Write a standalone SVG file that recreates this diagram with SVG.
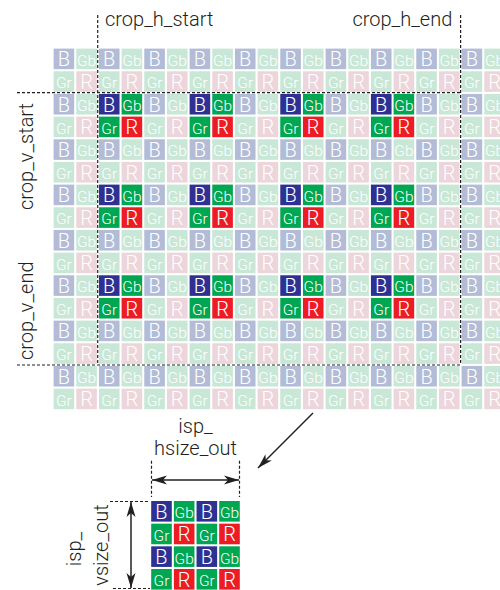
<svg xmlns="http://www.w3.org/2000/svg" xmlns:xlink="http://www.w3.org/1999/xlink" width="500" height="590" viewBox="0 0 500 590">
<style>
.lb{fill:#b3bcd6}.lg{fill:#c8e7d6}.lr{fill:#ecd5db}
.db{fill:#2e3192}.dg{fill:#00a651}.dr{fill:#ed1c24}
.big{font-family:Roboto,"Liberation Sans",sans-serif;font-weight:300;font-size:20px;fill:#fff;text-anchor:middle}
.sm{font-family:Roboto,"Liberation Sans",sans-serif;font-weight:300;font-size:15.5px;fill:#fff;text-anchor:middle}
.lbl{font-family:Roboto,"Liberation Sans",sans-serif;font-weight:300;font-size:20px;fill:#231f20}
.dash{stroke:#231f20;stroke-width:1.2;stroke-dasharray:3 2;fill:none}
.arr{stroke:#231f20;stroke-width:1.5;fill:none}
</style>
<defs>
<marker id="ah" markerUnits="userSpaceOnUse" markerWidth="18" markerHeight="12" viewBox="-17 -6 18 12" refX="0" refY="0" orient="auto-start-reverse"><path d="M0,0 L-15,-4.5 L-11,0 L-15,4.5 Z" fill="#231f20"/></marker>
<g id="lB"><rect class="lb" width="20.6" height="20.6"/><text class="big" x="10.3" y="17.8">B</text></g>
<g id="lGb"><rect class="lg" width="20.6" height="20.6"/><text class="sm" x="10.3" y="17.2">Gb</text></g>
<g id="lGr"><rect class="lg" width="20.6" height="20.6"/><text class="sm" x="10.3" y="17.2">Gr</text></g>
<g id="lR"><rect class="lr" width="20.6" height="20.6"/><text class="big" x="10.3" y="17.8">R</text></g>
<g id="dB"><rect class="db" width="20.6" height="20.6"/><text class="big" x="10.3" y="17.8">B</text></g>
<g id="dGb"><rect class="dg" width="20.6" height="20.6"/><text class="sm" x="10.3" y="17.2">Gb</text></g>
<g id="dGr"><rect class="dg" width="20.6" height="20.6"/><text class="sm" x="10.3" y="17.2">Gr</text></g>
<g id="dR"><rect class="dr" width="20.6" height="20.6"/><text class="big" x="10.3" y="17.8">R</text></g>
<g id="rowLE">
<use href="#lB" x="53.6"/><use href="#lGb" x="76.27"/><use href="#lB" x="98.93"/><use href="#lGb" x="121.6"/><use href="#lB" x="144.27"/><use href="#lGb" x="166.93"/><use href="#lB" x="189.6"/><use href="#lGb" x="212.27"/><use href="#lB" x="234.93"/><use href="#lGb" x="257.6"/><use href="#lB" x="280.27"/><use href="#lGb" x="302.93"/><use href="#lB" x="325.6"/><use href="#lGb" x="348.27"/><use href="#lB" x="370.93"/><use href="#lGb" x="393.6"/><use href="#lB" x="416.27"/><use href="#lGb" x="438.93"/><use href="#lB" x="461.6"/><use href="#lGb" x="484.27"/>
</g>
<g id="rowLO">
<use href="#lGr" x="53.6"/><use href="#lR" x="76.27"/><use href="#lGr" x="98.93"/><use href="#lR" x="121.6"/><use href="#lGr" x="144.27"/><use href="#lR" x="166.93"/><use href="#lGr" x="189.6"/><use href="#lR" x="212.27"/><use href="#lGr" x="234.93"/><use href="#lR" x="257.6"/><use href="#lGr" x="280.27"/><use href="#lR" x="302.93"/><use href="#lGr" x="325.6"/><use href="#lR" x="348.27"/><use href="#lGr" x="370.93"/><use href="#lR" x="393.6"/><use href="#lGr" x="416.27"/><use href="#lR" x="438.93"/><use href="#lGr" x="461.6"/><use href="#lR" x="484.27"/>
</g>
<g id="rowME">
<use href="#lB" x="53.6"/><use href="#lGb" x="76.27"/><use href="#dB" x="98.93"/><use href="#dGb" x="121.6"/><use href="#lB" x="144.27"/><use href="#lGb" x="166.93"/><use href="#dB" x="189.6"/><use href="#dGb" x="212.27"/><use href="#lB" x="234.93"/><use href="#lGb" x="257.6"/><use href="#dB" x="280.27"/><use href="#dGb" x="302.93"/><use href="#lB" x="325.6"/><use href="#lGb" x="348.27"/><use href="#dB" x="370.93"/><use href="#dGb" x="393.6"/><use href="#lB" x="416.27"/><use href="#lGb" x="438.93"/><use href="#lB" x="461.6"/><use href="#lGb" x="484.27"/>
</g>
<g id="rowMO">
<use href="#lGr" x="53.6"/><use href="#lR" x="76.27"/><use href="#dGr" x="98.93"/><use href="#dR" x="121.6"/><use href="#lGr" x="144.27"/><use href="#lR" x="166.93"/><use href="#dGr" x="189.6"/><use href="#dR" x="212.27"/><use href="#lGr" x="234.93"/><use href="#lR" x="257.6"/><use href="#dGr" x="280.27"/><use href="#dR" x="302.93"/><use href="#lGr" x="325.6"/><use href="#lR" x="348.27"/><use href="#dGr" x="370.93"/><use href="#dR" x="393.6"/><use href="#lGr" x="416.27"/><use href="#lR" x="438.93"/><use href="#lGr" x="461.6"/><use href="#lR" x="484.27"/>
</g>
<g id="outE"><use href="#dB" x="151.2"/><use href="#dGb" x="173.87"/><use href="#dB" x="196.53"/><use href="#dGb" x="219.2"/></g>
<g id="outO"><use href="#dGr" x="151.2"/><use href="#dR" x="173.87"/><use href="#dGr" x="196.53"/><use href="#dR" x="219.2"/></g>
</defs>
<rect width="500" height="590" fill="#fff"/>
<g id="sensor-array">
<use href="#rowLE" y="48.6"/>
<use href="#rowLO" y="71.27"/>
<use href="#rowME" y="93.93"/>
<use href="#rowMO" y="116.6"/>
<use href="#rowLE" y="139.27"/>
<use href="#rowLO" y="161.93"/>
<use href="#rowME" y="184.6"/>
<use href="#rowMO" y="207.27"/>
<use href="#rowLE" y="229.93"/>
<use href="#rowLO" y="252.6"/>
<use href="#rowME" y="275.27"/>
<use href="#rowMO" y="297.93"/>
<use href="#rowLE" y="320.6"/>
<use href="#rowLO" y="343.27"/>
<use href="#rowLE" y="365.93"/>
<use href="#rowLO" y="388.6"/>
</g>
<g id="crop-window">
<path class="dash" d="M97.7,15 V365 M460.6,15 V365 M17,92.6 H460.6 M17,365 H460.6"/>
<text class="lbl" x="105" y="26">crop_h_start</text>
<text class="lbl" x="452.3" y="26" text-anchor="end">crop_h_end</text>
<text class="lbl" transform="translate(33.3,210) rotate(-90)">crop_v_start</text>
<text class="lbl" transform="translate(33,360) rotate(-90)">crop_v_end</text>
</g>
<g id="isp-output">
<use href="#outE" y="501"/>
<use href="#outO" y="523.67"/>
<use href="#outE" y="546.33"/>
<use href="#outO" y="569"/>
<text class="lbl" x="195.5" y="432.5" text-anchor="middle">isp_</text>
<text class="lbl" x="195.5" y="455" text-anchor="middle">hsize_out</text>
<text class="lbl" transform="translate(81,549) rotate(-90)" text-anchor="middle">isp_</text>
<text class="lbl" transform="translate(107.5,545) rotate(-90)" text-anchor="middle">vsize_out</text>
<path class="dash" d="M151.5,460.7 V497 M239.5,460.7 V497 M110,501.5 H150 M113,588.5 H150"/>
</g>
<g id="connectors">
<line class="arr" x1="313" y1="413" x2="258" y2="468" marker-end="url(#ah)"/>
<line class="arr" x1="152" y1="480" x2="239" y2="480" marker-start="url(#ah)" marker-end="url(#ah)"/>
<line class="arr" x1="131" y1="502" x2="131" y2="588" marker-start="url(#ah)" marker-end="url(#ah)"/>
</g>
</svg>
